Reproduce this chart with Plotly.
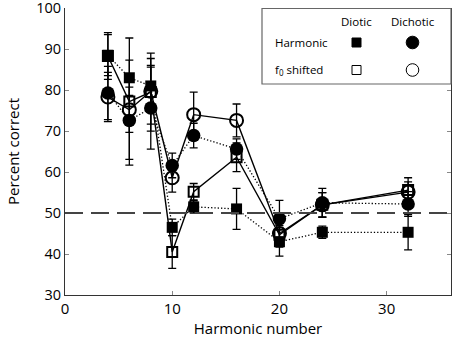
import plotly.graph_objects as go

harmonic_number = [4, 6, 8, 10, 12, 16, 20, 24, 32]

diotic_harmonic = [88.5, 83.0, 81.0, 46.5, 51.5, 51.0, 43.0, 45.3, 45.3]
diotic_harmonic_err = [5.0, 4.3, 5.0, 2.0, 1.5, 5.0, 3.5, 1.5, 4.3]

diotic_shifted = [88.3, 77.2, 79.5, 40.5, 55.2, 63.6, 44.7, 52.0, 55.6]
diotic_shifted_err = [5.7, 15.5, 9.5, 4.0, 2.0, 3.5, 3.0, 3.0, 3.0]

dichotic_harmonic = [79.3, 72.6, 75.6, 61.6, 68.9, 65.6, 48.6, 52.5, 52.2]
dichotic_harmonic_err = [6.5, 9.5, 10.0, 3.0, 3.0, 2.5, 4.5, 3.5, 3.0]

dichotic_shifted = [78.3, 75.2, 79.7, 58.6, 74.0, 72.6, 45.0, 52.0, 55.1]
dichotic_shifted_err = [6.0, 5.5, 8.0, 3.5, 5.5, 4.0, 2.0, 3.0, 2.5]

chance_level = 50

x_ticks = [0, 10, 20, 30]
y_ticks = [30, 40, 50, 60, 70, 80, 90, 100]

FONT = "Open Sans"

fig = go.Figure()


def add_series(y, err, symbol, size, dash, lw, mlw):
    fig.add_trace(go.Scatter(
        x=harmonic_number, y=y, mode="lines+markers",
        line=dict(color="black", width=lw, dash=dash),
        marker=dict(symbol=symbol, size=size, color="black",
                    line=dict(color="black", width=mlw)),
        error_y=dict(type="data", array=err, visible=True,
                     color="black", thickness=1.3, width=4),
        showlegend=False, cliponaxis=False,
    ))


add_series(diotic_shifted, diotic_shifted_err, "square-open", 10, "solid", 1.4, 2)
add_series(dichotic_shifted, dichotic_shifted_err, "circle-open", 13, "solid", 1.4, 2)
add_series(diotic_harmonic, diotic_harmonic_err, "square", 11, "1.3px,2px", 1.3, 0)
add_series(dichotic_harmonic, dichotic_harmonic_err, "circle", 13.5, "1.3px,2px", 1.3, 0)

# chance level dashed line
fig.add_shape(type="line", xref="paper", yref="y", x0=0, x1=1,
              y0=chance_level, y1=chance_level,
              line=dict(color="#444444", width=2, dash="18px,8px"))

# legend box (paper coords)
W, H = 454, 342
L, R, T, B = 65, 3, 8, 47
pw, ph = W - L - R, H - T - B


def px(xp):
    return (xp - L) / pw


def py(yp):
    return 1 - (yp - T) / ph


fig.add_shape(type="rect", xref="paper", yref="paper",
              x0=px(262), x1=px(451), y0=py(84), y1=py(8.5),
              line=dict(color="#666666", width=1.2), fillcolor="white", layer="above")

ann = dict(xref="paper", yref="paper", showarrow=False,
           font=dict(family=FONT, size=11.5, color="black"))
fig.add_annotation(x=px(356), y=py(21.5), text="Diotic", xanchor="center", yanchor="middle", **ann)
fig.add_annotation(x=px(413), y=py(21.5), text="Dichotic", xanchor="center", yanchor="middle", **ann)
fig.add_annotation(x=px(273), y=py(42.5), text="Harmonic", xanchor="left", yanchor="middle", **ann)
fig.add_annotation(x=px(273), y=py(70), text="f<sub>0</sub> shifted", xanchor="left", yanchor="middle", **ann)

# legend symbols
s = 4.5
fig.add_shape(type="rect", xref="paper", yref="paper", layer="above",
              x0=px(356.5 - s), x1=px(356.5 + s), y0=py(42.5 + s), y1=py(42.5 - s),
              line=dict(color="black", width=1), fillcolor="black")
fig.add_shape(type="rect", xref="paper", yref="paper", layer="above",
              x0=px(356.5 - s), x1=px(356.5 + s), y0=py(70 + s), y1=py(70 - s),
              line=dict(color="black", width=1), fillcolor="white")
r = 6.3
fig.add_shape(type="circle", xref="paper", yref="paper", layer="above",
              x0=px(412.5 - r), x1=px(412.5 + r), y0=py(42.5 + r), y1=py(42.5 - r),
              line=dict(color="black", width=1), fillcolor="black")
fig.add_shape(type="circle", xref="paper", yref="paper", layer="above",
              x0=px(412.5 - r), x1=px(412.5 + r), y0=py(70 + r), y1=py(70 - r),
              line=dict(color="black", width=1), fillcolor="white")

fig.update_layout(
    width=W, height=H,
    margin=dict(l=L, r=R, t=T, b=B),
    plot_bgcolor="white", paper_bgcolor="white",
    font=dict(family=FONT, size=15, color="black"),
    xaxis=dict(range=[0, 36], tickvals=x_ticks, ticks="inside", ticklen=4,
               tickcolor="#888888", showline=True, linecolor="#333333", linewidth=1.2,
               showgrid=False, zeroline=False, mirror=False, automargin=False,
               ticklabeloverflow="allow",
               title=dict(text="Harmonic number", standoff=5,
                          font=dict(family=FONT, size=15)),
               tickfont=dict(family=FONT, size=15)),
    yaxis=dict(range=[30, 100.02], tickvals=y_ticks, ticks="inside", ticklen=4,
               tickcolor="#888888", showline=True, linecolor="#333333", linewidth=1.2,
               showgrid=False, zeroline=False, mirror="ticks", automargin=False,
               ticklabeloverflow="allow",
               title=dict(text="Percent correct", standoff=12,
                          font=dict(family=FONT, size=15)),
               tickfont=dict(family=FONT, size=14.5)),
)

fig.write_html("out.html", config={"displayModeBar": False},
               post_script="document.body.style.margin='0';document.body.style.overflow='hidden';")
